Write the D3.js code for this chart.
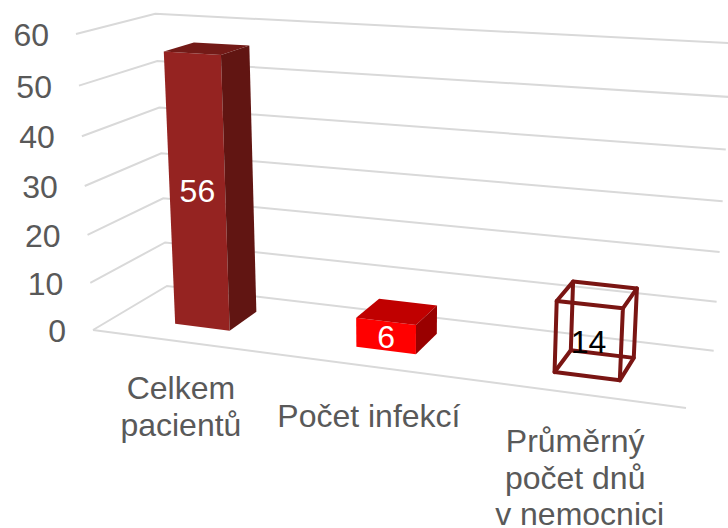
<!DOCTYPE html>
<html>
<head>
<meta charset="utf-8">
<script src="https://d3js.org/d3.v7.min.js"></script>
<style>
body { margin: 0; background: #fff; }
text { font-family: "Liberation Sans", Arial, sans-serif; }
</style>
</head>
<body>
<div id="chart"></div>
<script>
// data
var categories = ["Celkem pacientů", "Počet infekcí", "Průměrný počet dnů v nemocnici"];
var categoryLines = [["Celkem", "pacientů"], ["Počet infekcí"], ["Průměrný", "počet dnů", "v nemocnici"]];
var values = [56, 6, 14];
var yTicks = [0, 10, 20, 30, 40, 50, 60];

var width = 728, height = 528;

var svg = d3.select("#chart").append("svg")
	.attr("width", width)
	.attr("height", height)
	.style("display", "block");

// scales go to the unit box of the 3d plot: u along categories, w into depth, v up
var u = d3.scaleBand().domain(categories).range([0, 1]).paddingInner(0.69).paddingOuter(0.345);
var v = d3.scaleLinear().domain([0, 60]).range([0, 1]);
var depth = [0.295, 0.7];

// perspective map, corners of the box as seen on screen
var O = [93, 330], U = [686, 408], W = [167, 286], V = [76, 34];
var au = 0.87, aw = 1.0913, av = 0.947;

function project(pu, pw, pv) {
	var d = 1 + pu * (au - 1) + pw * (aw - 1) + pv * (av - 1);
	return [0, 1].map(function (i) {
		return (O[i] + pu * (au * U[i] - O[i]) + pw * (aw * W[i] - O[i]) + pv * (av * V[i] - O[i])) / d;
	});
}

var line = d3.line();

// gridlines
var grid = svg.append("g")
	.attr("fill", "none")
	.attr("stroke", "#d9d9d9")
	.attr("stroke-width", 2);

yTicks.forEach(function (t) {
	grid.append("path")
		.attr("d", line([project(0, 0, v(t)), project(0, 1, v(t)), project(1, 1, v(t))]));
});
grid.append("path").attr("d", line([project(0, 0, 0), project(1, 0, 0)]));

// y labels
svg.selectAll(".ytick")
	.data(yTicks)
	.enter().append("text")
	.attr("class", "ytick")
	.attr("x", function (d) { return project(0, 0, v(d))[0] - 27; })
	.attr("y", function (d) { return project(0, 0, v(d))[1] + 0.7; })
	.attr("dy", "0.35em")
	.attr("text-anchor", "end")
	.attr("font-size", 32)
	.attr("fill", "#595959")
	.text(function (d) { return d; });

function box(i) {
	var u0 = u(categories[i]), u1 = u0 + u.bandwidth(), t = v(values[i]);
	var w0 = depth[0], w1 = depth[1];
	return {
		front: [project(u0, w0, 0), project(u1, w0, 0), project(u1, w0, t), project(u0, w0, t)],
		back: [project(u0, w1, 0), project(u1, w1, 0), project(u1, w1, t), project(u0, w1, t)]
	};
}

function drawSolid(i, colors) {
	var b = box(i);
	var g = svg.append("g");
	g.append("path").attr("fill", colors[0]).attr("d", line(b.front) + "Z");
	g.append("path").attr("fill", colors[1]).attr("d", line([b.front[3], b.front[2], b.back[2], b.back[3]]) + "Z");
	g.append("path").attr("fill", colors[2]).attr("d", line([b.front[1], b.back[1], b.back[2], b.front[2]]) + "Z");
}

drawSolid(0, ["#952321", "#731a17", "#611512"]);
drawSolid(1, ["#ff0000", "#c00000", "#990000"]);

// third bar only has its edges
var b3 = box(2);
var wire = svg.append("g")
	.attr("fill", "none")
	.attr("stroke", "#7a1513")
	.attr("stroke-width", 4)
	.attr("stroke-linejoin", "round")
	.attr("stroke-linecap", "round");
wire.append("path").attr("d", line(b3.back) + "Z");
wire.append("path").attr("d", line(b3.front) + "Z");
d3.range(4).forEach(function (k) {
	wire.append("path").attr("d", line([b3.front[k], b3.back[k]]));
});

// value labels in the middle of the front face
svg.selectAll(".val")
	.data(values)
	.enter().append("text")
	.attr("class", "val")
	.attr("x", function (d, i) { return d3.mean(box(i).front, function (p) { return p[0]; }); })
	.attr("y", function (d, i) { return d3.mean(box(i).front, function (p) { return p[1]; }) + 1; })
	.attr("dy", "0.35em")
	.attr("text-anchor", "middle")
	.attr("font-size", 32)
	.attr("fill", function (d, i) { return i == 2 ? "#000" : "#fff"; })
	.text(function (d) { return d; });

// category labels, hand nudged per label to sit like the original
var labelDrop = [57.5, 60.5, 59];
categories.forEach(function (c, i) {
	var p = project(u(c) + u.bandwidth() / 2, 0, 0);
	var t = svg.append("text")
		.attr("text-anchor", "middle")
		.attr("font-size", 32)
		.attr("fill", "#595959");
	categoryLines[i].forEach(function (s, k) {
		t.append("tspan")
			.attr("x", p[0] + (k == 2 ? 4.5 : 0))
			.attr("y", p[1] + labelDrop[i] + k * 36.5)
			.text(s);
	});
});
</script>
</body>
</html>
